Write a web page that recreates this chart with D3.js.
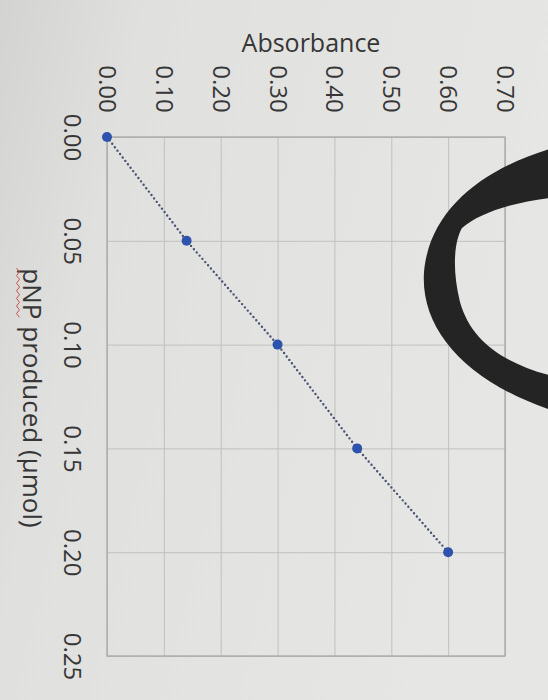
<!DOCTYPE html>
<html>
<head>
<meta charset="utf-8">
<script src="https://cdn.jsdelivr.net/npm/d3@7"></script>
<style>
  html, body { margin: 0; padding: 0; background: #e2e2e0; }
  svg { display: block; }
  text { font-family: "Open Sans", "Noto Sans", sans-serif; fill: #363636; }
</style>
</head>
<body>
<svg id="chart" width="548" height="700"></svg>
<script>
// ---- data ----
const pnpProduced = [0.00, 0.05, 0.10, 0.15, 0.20];          // µmol
const absorbance  = [0.00, 0.14, 0.30, 0.44, 0.60];
const absTicks = [0.00, 0.10, 0.20, 0.30, 0.40, 0.50, 0.60, 0.70];
const pnpTicks = [0.00, 0.05, 0.10, 0.15, 0.20, 0.25];
const absTitle = "Absorbance";
const pnpTitle = "pNP produced (μmol)";

const points = pnpProduced.map((p, i) => ({ p, a: absorbance[i] }));

// ---- layout ----
const W = 548, H = 700;
const pLeft = 107, pRight = 505, pTop = 137, pBottom = 656;

const svg = d3.select("#chart");

const defs = svg.append("defs");
const grad = defs.append("linearGradient").attr("id", "paper")
  .attr("x1", "0").attr("y1", "0").attr("x2", "1").attr("y2", "0.3");
grad.append("stop").attr("offset", "0").attr("stop-color", "#d3d3d1");
grad.append("stop").attr("offset", "0.25").attr("stop-color", "#e0e0de");
grad.append("stop").attr("offset", "1").attr("stop-color", "#e6e6e4");
svg.append("rect").attr("width", W).attr("height", H).attr("fill", "url(#paper)");

// scales: chart is photographed rotated 90° clockwise
const x = d3.scaleLinear().domain([0, 0.7]).range([pLeft, pRight]);   // absorbance
const y = d3.scaleLinear().domain([0, 0.25]).range([pTop, pBottom]);  // pNP

const fmt = d3.format(".2f");

// absorbance axis (top) with gridlines
const gx = svg.append("g").attr("transform", `translate(0,${pTop})`)
  .call(d3.axisTop(x).tickValues(absTicks).tickSize(-(pBottom - pTop)).tickFormat(fmt));
gx.select(".domain").remove();
gx.selectAll(".tick line").attr("stroke", "#c0c0be").attr("stroke-width", 1);
gx.selectAll(".tick text")
  .attr("x", 0).attr("y", 0).attr("dy", 0)
  .attr("text-anchor", "middle")
  .attr("transform", `translate(-8.5,${89 - pTop}) rotate(90)`)
  .style("font-size", "24px").style("fill", "#363636");

// pNP axis (left) with gridlines
const gy = svg.append("g").attr("transform", `translate(${pLeft},0)`)
  .call(d3.axisLeft(y).tickValues(pnpTicks).tickSize(-(pRight - pLeft)).tickFormat(fmt));
gy.select(".domain").remove();
gy.selectAll(".tick line").attr("stroke", "#c0c0be").attr("stroke-width", 1);
gy.selectAll(".tick text")
  .attr("x", 0).attr("y", 0).attr("dy", 0)
  .attr("text-anchor", "middle")
  .attr("transform", `translate(${64 - pLeft},0) rotate(90)`)
  .style("font-size", "24px").style("fill", "#363636");

// plot frame
svg.append("rect")
  .attr("x", x(0)).attr("y", y(0))
  .attr("width", x(0.7) - x(0)).attr("height", y(0.25) - y(0))
  .attr("fill", "none").attr("stroke", "#a8a8a6").attr("stroke-width", 1.3);

// titles
svg.append("text")
  .attr("x", 311).attr("y", 52)
  .attr("text-anchor", "middle")
  .style("font-size", "25px")
  .text(absTitle);

svg.append("text")
  .attr("transform", "translate(23,398) rotate(90)")
  .attr("text-anchor", "middle")
  .style("font-size", "26px")
  .text(pnpTitle);

// spell-check squiggle under "pNP"
const squiggle = d3.range(0, 14).map(i => [18 + (i % 2 ? 1.5 : -1.5), 268 + i * 3.8]);
svg.append("path")
  .attr("d", d3.line()(squiggle))
  .attr("fill", "none").attr("stroke", "#c9504c").attr("stroke-width", 1);

// dotted series line
svg.append("path")
  .datum(points)
  .attr("d", d3.line().x(d => x(d.a)).y(d => y(d.p)))
  .attr("fill", "none")
  .attr("stroke", "#485373")
  .attr("stroke-width", 2.4)
  .attr("stroke-linecap", "round")
  .attr("stroke-dasharray", "0 4.3");

// markers
svg.selectAll("circle.pt")
  .data(points)
  .join("circle")
  .attr("class", "pt")
  .attr("cx", d => x(d.a)).attr("cy", d => y(d.p))
  .attr("r", 5)
  .attr("fill", "#2d53ad");

// dark occluding object in the photo
svg.append("path")
  .attr("d", "M560,146 C490,165 430,205 424,272 C420,332 470,385 560,413 L560,378 C510,366 472,345 460,302 C452,270 454,242 462,228 C480,212 520,200 560,197 Z")
  .attr("fill", "#242424");
</script>
</body>
</html>
